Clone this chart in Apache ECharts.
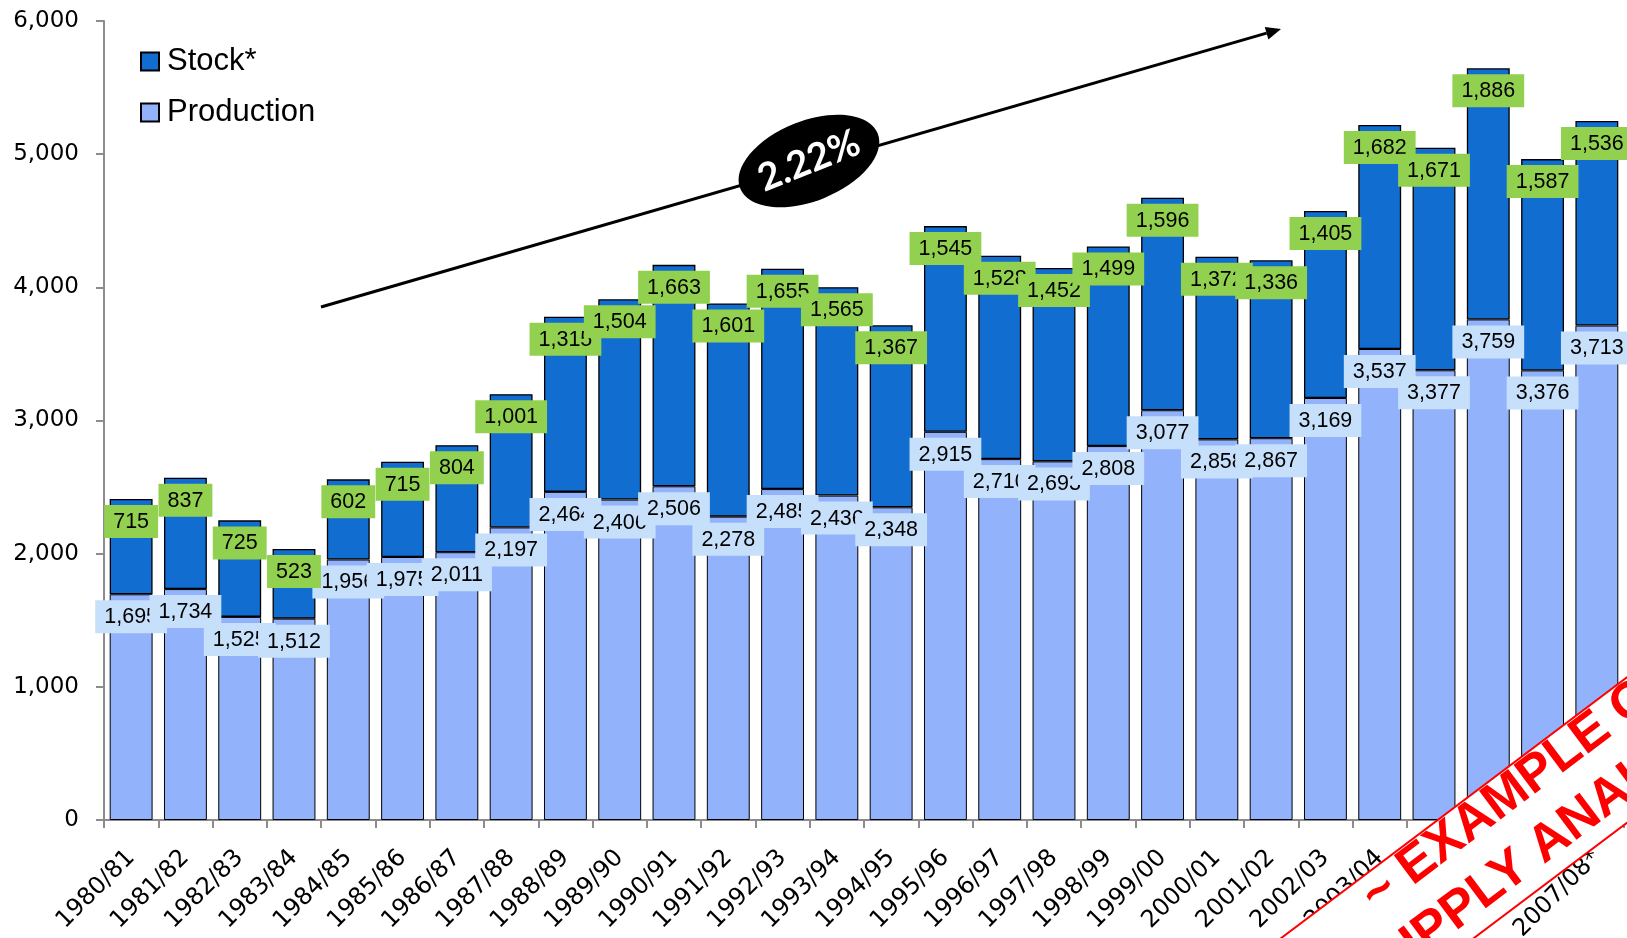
<!DOCTYPE html>
<html>
<head>
<meta charset="utf-8">
<script src="https://cdn.jsdelivr.net/npm/echarts@6/dist/echarts.min.js"></script>
<style>
  html, body { margin: 0; padding: 0; background: #ffffff; }
  #chart { width: 1627px; height: 938px; }
</style>
</head>
<body>
<div id="chart"></div>
<script>
// Marketing years on the category axis
const seasons = [
  '1980/81', '1981/82', '1982/83', '1983/84', '1984/85', '1985/86', '1986/87',
  '1987/88', '1988/89', '1989/90', '1990/91', '1991/92', '1992/93', '1993/94',
  '1994/95', '1995/96', '1996/97', '1997/98', '1998/99', '1999/00', '2000/01',
  '2001/02', '2002/03', '2003/04', '2004/05', '2005/06', '2006/07', '2007/08*'
];

// Production per season (lower stack)
const production = [
  1695, 1734, 1525, 1512, 1956, 1975, 2011, 2197, 2464, 2406, 2506, 2278, 2485, 2436,
  2348, 2915, 2710, 2693, 2808, 3077, 2858, 2867, 3169, 3537, 3377, 3759, 3376, 3713
];

// Carry-in stock per season (upper stack)
const stock = [
  715, 837, 725, 523, 602, 715, 804, 1001, 1315, 1504, 1663, 1601, 1655, 1565,
  1367, 1545, 1528, 1452, 1499, 1596, 1372, 1336, 1405, 1682, 1671, 1886, 1587, 1536
];

// Value axis range
const yMin = 0;
const yMax = 6000;
const yStep = 1000;

// Annotation texts
const growthText = '2.22%';
const stampLines = ['~ EXAMPLE OF', 'SUPPLY ANALYSIS ~'];

const fmt = v => Number(v).toLocaleString('en-US');
const sansFont = '"Liberation Sans", Arial, sans-serif';
const axisGray = '#8c8c8c';

function valueLabel(bg) {
  return {
    show: true,
    position: 'insideTop',
    distance: 6,
    formatter: p => fmt(p.value),
    backgroundColor: bg,
    padding: [6, 9, 5, 9],
    color: '#000',
    fontSize: 21.5,
    lineHeight: 22,
    fontFamily: sansFont
  };
}

const chart = echarts.init(document.getElementById('chart'), null, { renderer: 'canvas' });

// Trend arrow geometry (annotation overlay)
const arrowFrom = [321, 307];
const arrowTo = [1281, 29];
const dx = arrowTo[0] - arrowFrom[0], dy = arrowTo[1] - arrowFrom[1];
const len = Math.hypot(dx, dy);
const ux = dx / len, uy = dy / len;
const headLen = 15, headHalf = 6.5;
const baseX = arrowTo[0] - headLen * ux, baseY = arrowTo[1] - headLen * uy;

chart.setOption({
  animation: false,
  backgroundColor: '#ffffff',
  grid: { left: 104, right: 3, top: 21, bottom: 118, outerBoundsMode: 'none', containLabel: false },
  legend: {
    orient: 'vertical',
    left: 140,
    top: 46,
    padding: 0,
    itemWidth: 18,
    itemHeight: 18,
    itemGap: 20,
    icon: 'rect',
    data: ['Stock*', 'Production'],
    textStyle: { fontSize: 31, lineHeight: 31, color: '#000', fontFamily: sansFont, padding: [0, 0, 0, 3] }
  },
  xAxis: {
    type: 'category',
    data: seasons,
    axisLine: { lineStyle: { color: axisGray, width: 2 } },
    axisTick: { show: true, length: 8, lineStyle: { color: axisGray, width: 2 } },
    axisLabel: {
      interval: 0,
      rotate: 45,
      margin: 34,
      fontSize: 24,
      color: '#000',
      fontFamily: '"DejaVu Sans", sans-serif'
    }
  },
  yAxis: {
    type: 'value',
    min: yMin,
    max: yMax,
    interval: yStep,
    splitLine: { show: false },
    axisLine: { show: true, lineStyle: { color: axisGray, width: 2 } },
    axisTick: { show: true, length: 8, lineStyle: { color: axisGray, width: 2 } },
    axisLabel: {
      margin: 25,
      fontSize: 23,
      color: '#000',
      fontFamily: '"DejaVu Sans", sans-serif',
      formatter: v => fmt(v)
    }
  },
  series: [
    {
      name: 'Production',
      type: 'bar',
      stack: 'total',
      barCategoryGap: '21%',
      data: production,
      itemStyle: { color: '#93b2fc', borderColor: '#000', borderWidth: 1 },
      label: valueLabel('#c6dffa')
    },
    {
      name: 'Stock*',
      type: 'bar',
      stack: 'total',
      barCategoryGap: '21%',
      data: stock,
      itemStyle: { color: '#116dd0', borderColor: '#000', borderWidth: 1.3 },
      label: valueLabel('#92d050')
    }
  ],
  graphic: [
    {
      type: 'line',
      z: 90,
      shape: { x1: arrowFrom[0], y1: arrowFrom[1], x2: baseX, y2: baseY },
      style: { stroke: '#000', lineWidth: 3 }
    },
    {
      type: 'polygon',
      z: 90,
      shape: {
        points: [
          arrowTo,
          [baseX - headHalf * uy, baseY + headHalf * ux],
          [baseX + headHalf * uy, baseY - headHalf * ux]
        ]
      },
      style: { fill: '#000' }
    },
    {
      type: 'ellipse',
      z: 91,
      x: 809, y: 161,
      rotation: 0.38,
      shape: { cx: 0, cy: 0, rx: 74, ry: 40 },
      style: { fill: '#000' }
    },
    {
      type: 'text',
      z: 92,
      x: 809, y: 161,
      rotation: 0.38,
      style: {
        text: growthText,
        fill: '#fff',
        font: 'bold 38px Lato, "Liberation Sans", sans-serif',
        align: 'center',
        verticalAlign: 'middle',
        textAlign: 'center',
        textVerticalAlign: 'middle'
      }
    },
    {
      type: 'group',
      z: 100,
      x: 1627, y: 750,
      rotation: 0.646,
      children: [
        {
          type: 'rect',
          z: 100,
          shape: { x: -700, y: -58, width: 1000, height: 116 },
          style: { fill: '#fff', stroke: '#ff0000', lineWidth: 2 }
        },
        {
          type: 'text',
          z: 101,
          x: -298, y: -35,
          style: {
            text: stampLines[0], fill: '#ff0000',
            font: 'bold 52px "Liberation Sans", Arial, sans-serif',
            align: 'left', verticalAlign: 'middle',
            textAlign: 'left', textVerticalAlign: 'middle'
          }
        },
        {
          type: 'text',
          z: 101,
          x: -353, y: 27,
          style: {
            text: stampLines[1], fill: '#ff0000',
            font: 'bold 52px "Liberation Sans", Arial, sans-serif',
            align: 'left', verticalAlign: 'middle',
            textAlign: 'left', textVerticalAlign: 'middle'
          }
        }
      ]
    }
  ]
});
</script>
</body>
</html>
